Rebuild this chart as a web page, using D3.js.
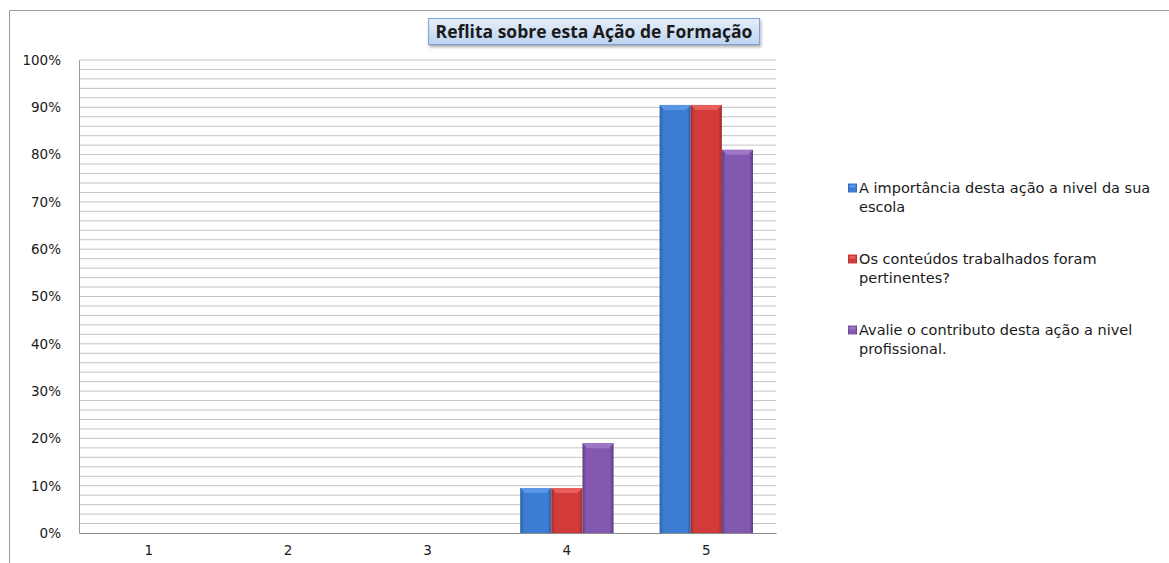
<!DOCTYPE html>
<html>
<head>
<meta charset="utf-8">
<script src="https://cdn.jsdelivr.net/npm/d3@7"></script>
<style>
  body { margin: 0; background: #fff; }
  text { font-family: "DejaVu Sans", sans-serif; fill: #1a1a1a; }
</style>
</head>
<body>
<div id="chart"></div>
<script>
// data
const categories = ["1", "2", "3", "4", "5"];
const seriesNames = [
  "A importância desta ação a nivel da sua escola",
  "Os conteúdos trabalhados foram pertinentes?",
  "Avalie o contributo desta ação a nivel profissional."
];
const legendLines = [
  ["A importância desta ação a nivel da sua", "escola"],
  ["Os conteúdos trabalhados foram", "pertinentes?"],
  ["Avalie o contributo desta ação a nivel", "profissional."]
];
const importancia = [0, 0, 0, 9.5, 90.5];
const conteudos   = [0, 0, 0, 9.5, 90.5];
const contributo  = [0, 0, 0, 19, 81];
const yTicks = [0, 10, 20, 30, 40, 50, 60, 70, 80, 90, 100];
const minorTicks = d3.range(0, 101, 2);
const title = "Reflita sobre esta Ação de Formação";

const W = 1169, H = 563;
const margin = {left: 79, right: 393, top: 60, bottom: 30};

const colors = [
  {base: "#3b7dd3", light: "#5a98e6", dark: "#2a5fa6"},
  {base: "#d23b39", light: "#e8605c", dark: "#a22c2a"},
  {base: "#8358b0", light: "#9d77c6", dark: "#5f3d86"}
];

const svg = d3.select("#chart").append("svg")
  .attr("width", W)
  .attr("height", H);

const defs = svg.append("defs");
colors.forEach((c, i) => {
  const g = defs.append("linearGradient").attr("id", "bar" + i)
    .attr("x1", 0).attr("x2", 1).attr("y1", 0).attr("y2", 0);
  g.append("stop").attr("offset", "0%").attr("stop-color", c.dark);
  g.append("stop").attr("offset", "12%").attr("stop-color", c.base);
  g.append("stop").attr("offset", "50%").attr("stop-color", c.base);
  g.append("stop").attr("offset", "88%").attr("stop-color", c.base);
  g.append("stop").attr("offset", "100%").attr("stop-color", c.dark);
});
const tg = defs.append("linearGradient").attr("id", "titleGrad")
  .attr("x1", 0).attr("x2", 0).attr("y1", 0).attr("y2", 1);
tg.append("stop").attr("offset", "0%").attr("stop-color", "#e6effa");
tg.append("stop").attr("offset", "100%").attr("stop-color", "#bcd3f0");
const sh = defs.append("filter").attr("id", "shadow")
  .attr("x", "-5%").attr("y", "-20%").attr("width", "110%").attr("height", "160%");
sh.append("feDropShadow").attr("dx", 1).attr("dy", 2).attr("stdDeviation", 1.5)
  .attr("flood-color", "#000").attr("flood-opacity", 0.35);

// outer frame (only top and left visible)
svg.append("line").attr("x1", 9.5).attr("x2", W).attr("y1", 10.5).attr("y2", 10.5)
  .attr("stroke", "#9a9a9a");
svg.append("line").attr("x1", 9.5).attr("x2", 9.5).attr("y1", 10.5).attr("y2", H)
  .attr("stroke", "#9a9a9a");

// scales
const x = d3.scaleBand()
  .domain(categories)
  .range([margin.left, W - margin.right])
  .paddingInner(0.33)
  .paddingOuter(0.165);

const xs = d3.scaleBand()
  .domain(d3.range(3))
  .range([0, x.bandwidth()]);

const y = d3.scaleLinear()
  .domain([0, 100])
  .range([H - margin.bottom, margin.top]);

// gridlines
svg.append("g")
  .selectAll("line")
  .data(minorTicks.filter(d => d > 0))
  .join("line")
    .attr("x1", margin.left)
    .attr("x2", W - margin.right)
    .attr("y1", d => y(d))
    .attr("y2", d => y(d))
    .attr("stroke", "#c4c4c4")
    .attr("stroke-width", 1);

// y axis
const yAxis = d3.axisLeft(y)
  .tickValues(yTicks)
  .tickFormat(d => d + "%")
  .tickSize(0)
  .tickPadding(18);
const yg = svg.append("g")
  .attr("transform", `translate(${margin.left},0)`)
  .call(yAxis);
yg.select(".domain").attr("stroke", "#9a9a9a");
yg.selectAll("text").style("font-size", "13.5px").attr("fill", "#1a1a1a");

// bars
const series = [importancia, conteudos, contributo];
series.forEach((vals, si) => {
  const g = svg.append("g");
  const data = categories.map((c, i) => ({cat: c, v: vals[i]})).filter(d => d.v > 0);
  g.selectAll("rect")
    .data(data)
    .join("rect")
      .attr("x", d => x(d.cat) + xs(si))
      .attr("y", d => y(d.v))
      .attr("width", xs.bandwidth())
      .attr("height", d => y(0) - y(d.v))
      .attr("fill", `url(#bar${si})`);
  // bevel top highlight
  g.selectAll("polygon")
    .data(data)
    .join("polygon")
      .attr("points", d => {
        const x0 = x(d.cat) + xs(si), x1 = x0 + xs.bandwidth(), y0 = y(d.v);
        return `${x0},${y0} ${x1},${y0} ${x1 - 5},${y0 + 5} ${x0 + 5},${y0 + 5}`;
      })
      .attr("fill", colors[si].light);
});

// x axis
const xAxis = d3.axisBottom(x).tickSize(0).tickPadding(12);
const xg = svg.append("g")
  .attr("transform", `translate(0,${y(0)})`)
  .call(xAxis);
xg.select(".domain").attr("stroke", "#8a8a8a");
xg.selectAll("text").style("font-size", "13.5px").attr("fill", "#1a1a1a");

// title box
const tgG = svg.append("g");
const tText = tgG.append("text")
  .attr("x", (424 + 764) / 2)
  .attr("y", 38)
  .attr("text-anchor", "middle")
  .style("font-family", "'Open Sans', sans-serif")
  .style("font-weight", "bold")
  .style("font-size", "17.5px")
  .text(title);
const bb = tText.node().getBBox();
tgG.insert("rect", "text")
  .attr("x", bb.x - 7).attr("y", 18.5)
  .attr("width", bb.width + 14).attr("height", 26)
  .attr("fill", "url(#titleGrad)")
  .attr("stroke", "#7fa3d6")
  .attr("stroke-width", 1)
  .attr("filter", "url(#shadow)");

// legend
const legend = svg.append("g").attr("transform", "translate(848,0)");
const legendY = [188, 259, 330];
legendLines.forEach((lines, i) => {
  const item = legend.append("g").attr("transform", `translate(0,${legendY[i]})`);
  item.append("rect")
    .attr("x", 0).attr("y", -4.5)
    .attr("width", 9).attr("height", 9)
    .attr("fill", `url(#bar${i})`);
  item.append("rect")
    .attr("x", 1.5).attr("y", -3).attr("width", 6).attr("height", 2.5)
    .attr("fill", colors[i].light);
  item.selectAll("text")
    .data(lines)
    .join("text")
      .attr("x", 11)
      .attr("y", (d, j) => j * 19)
      .attr("dy", "0.35em")
      .style("font-size", "14.5px")
      .text(d => d);
});
</script>
</body>
</html>
